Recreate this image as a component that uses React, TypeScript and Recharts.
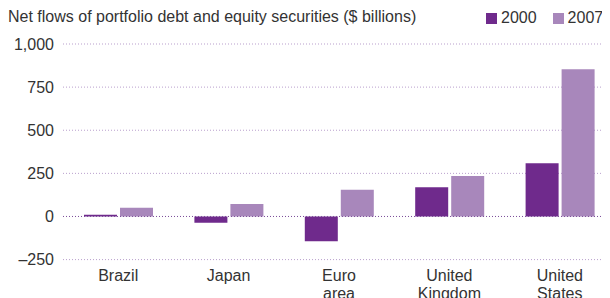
import React from 'react';
import {
  BarChart,
  Bar,
  XAxis,
  YAxis,
  CartesianGrid,
  ReferenceLine,
} from 'recharts';

// values ($ billions)
const regions = ['Brazil', 'Japan', 'Euro\narea', 'United\nKingdom', 'United\nStates'];
const flows2000 = [10, -37, -143, 170, 308];
const flows2007 = [51, 73, 155, 234, 853];
const yTicks = [-250, 0, 250, 500, 750, 1000];

const data = regions.map((name, i) => ({
  name,
  y2000: flows2000[i],
  y2007: flows2007[i],
}));

const DARK = '#6f2a8c';
const LIGHT = '#a887bb';
const FONT = '"Liberation Sans", Arial, sans-serif';

const fmt = (v: number) => (v < 0 ? '\u2013' + Math.abs(v) : v.toLocaleString('en-US'));

const CategoryTick = ({ x, y, payload }: any) => {
  const lines = String(payload.value).split('\n');
  return (
    <text x={x} y={y} textAnchor="middle" fill="#333" fontSize={16} fontFamily={FONT}>
      {lines.map((l, i) => (
        <tspan key={i} x={x} dy={i === 0 ? 13 : 18}>
          {l}
        </tspan>
      ))}
    </text>
  );
};

const App = () => {
  return (
    <div
      style={{
        position: 'relative',
        width: 610,
        height: 298,
        marginLeft: -8,
        marginTop: -8,
        overflow: 'hidden',
        background: '#fff',
        fontFamily: FONT,
      }}
    >
      <div style={{ position: 'absolute', left: 8, top: 8, fontSize: 16, color: '#333' }}>
        Net flows of portfolio debt and equity securities ($ billions)
      </div>
      <div
        style={{
          position: 'absolute',
          left: 486,
          top: 9,
          fontSize: 16,
          color: '#333',
          display: 'flex',
          alignItems: 'center',
        }}
      >
        <span style={{ width: 11, height: 11, background: DARK, display: 'inline-block', marginRight: 4 }} />
        <span>2000</span>
        <span
          style={{ width: 11, height: 11, background: LIGHT, display: 'inline-block', marginLeft: 16, marginRight: 4 }}
        />
        <span>2007</span>
      </div>
      <div style={{ position: 'absolute', left: 0, top: 0 }}>
        <BarChart
          width={615}
          height={298}
          data={data}
          margin={{ top: 44, right: 0, bottom: 0, left: 0 }}
          barSize={33}
          barGap={3}
        >
          <CartesianGrid vertical={false} stroke="#b99fcd" strokeDasharray="1 2" />
          <XAxis
            dataKey="name"
            axisLine={false}
            tickLine={false}
            height={38.4}
            interval={0}
            tick={<CategoryTick />}
          />
          <YAxis
            domain={[-250, 1000]}
            ticks={yTicks}
            width={63}
            axisLine={false}
            tickLine={false}
            tickSize={0}
            tickMargin={9}
            tickFormatter={fmt}
            tick={{ fill: '#333', fontSize: 16, fontFamily: FONT }}
          />
          <Bar dataKey="y2000" fill={DARK} isAnimationActive={false} />
          <Bar dataKey="y2007" fill={LIGHT} isAnimationActive={false} />
          <ReferenceLine y={0} stroke="#7d4f9a" strokeDasharray="1 2" />
        </BarChart>
      </div>
    </div>
  );
};

export default App;
